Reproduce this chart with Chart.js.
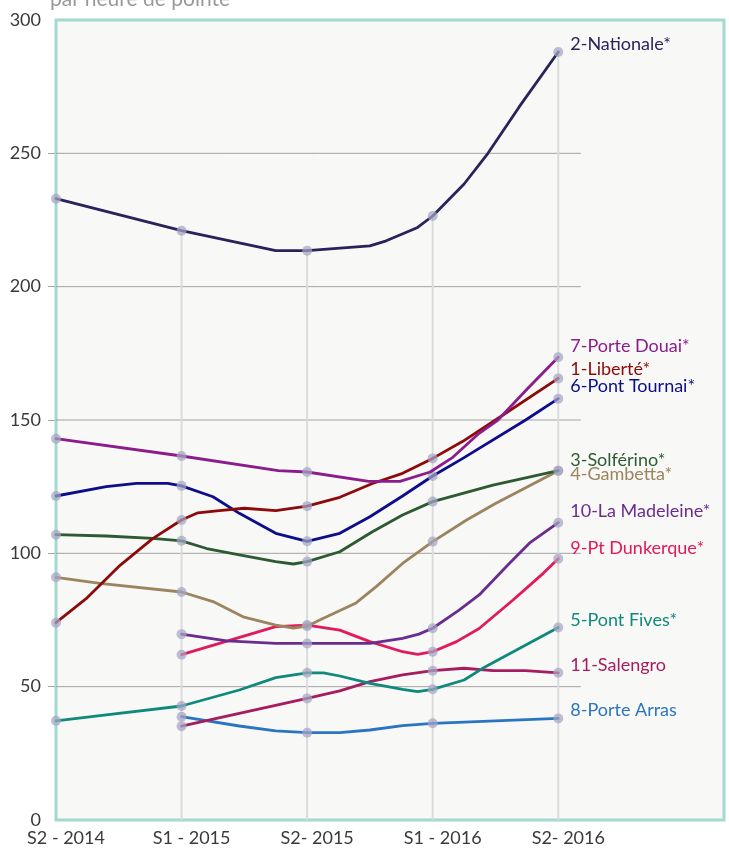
<!DOCTYPE html>
<html><head><meta charset="utf-8">
<script src="https://cdn.jsdelivr.net/npm/chart.js@4.4.1/dist/chart.umd.min.js"></script>
<style>
html,body{margin:0;padding:0;background:#fff;}
#wrap{position:relative;width:729px;height:849px;overflow:hidden;}
#title{position:absolute;left:50px;top:-13px;font-family:Lato,sans-serif;font-size:21px;line-height:21px;color:#9a9a9a;white-space:nowrap;z-index:2;}
#c{position:absolute;left:0;top:0;}
</style></head><body>
<div id="wrap"><div id="title">par heure de pointe</div><canvas id="c" width="729" height="849"></canvas></div>
<script>
// ---- data ----
const categories = ["S2 - 2014", "S1 - 2015", "S2- 2015", "S1 - 2016", "S2- 2016"];
const yTickValues = [0, 50, 100, 150, 200, 250, 300];
const seriesNames = ["2-Nationale*", "7-Porte Douai*", "1-Liberté*", "6-Pont Tournai*", "3-Solférino*", "4-Gambetta*", "10-La Madeleine*", "9-Pt Dunkerque*", "5-Pont Fives*", "11-Salengro", "8-Porte Arras"];
const nationale   = [[0,233],[1,221],[1.75,213.5],[2,213.5],[2.5,215.3],[2.63,217.2],[2.88,222.2],[3,226.5],[3.25,238.5],[3.44,250],[3.69,267.5],[4,288]];
const porteDouai  = [[0,143],[1,136.5],[1.77,131],[2,130.5],[2.49,127],[2.74,127],[2.98,130.5],[3.16,136],[3.37,145],[3.52,150],[3.76,162],[4,173.5]];
const liberte     = [[0,74],[0.24,83],[0.51,95.5],[0.77,105.5],[1,112.5],[1.13,115.2],[1.3,116],[1.5,116.9],[1.75,116],[2,117.7],[2.26,121],[2.52,126.2],[2.76,130],[3,135.6],[3.24,142],[3.5,150],[4,165.6]];
const pontTournai = [[0,121.5],[0.4,125],[0.64,126.2],[0.89,126.2],[1,125.3],[1.25,121.2],[1.46,115],[1.75,107.5],[2,104.5],[2.26,107.5],[2.5,113.7],[2.76,121.5],[3,129],[3.24,135.6],[3.74,150],[4,158]];
const solferino   = [[0,107],[0.4,106.5],[0.77,105.6],[1,104.7],[1.2,101.8],[1.46,99.4],[1.75,96.9],[1.89,96],[2,96.9],[2.26,100.6],[2.52,108.1],[2.76,114.4],[3,119.4],[3.24,122.5],[3.48,125.6],[4,131]];
const gambetta    = [[0,91],[0.35,88.7],[1,85.5],[1.25,81.9],[1.49,76.2],[1.75,73.1],[1.89,72],[2,72.7],[2.1,75],[2.39,81.4],[2.55,87.5],[2.76,96.2],[3,104.4],[3.27,112.5],[3.5,118.7],[4,131]];
const madeleine   = [[1,69.7],[1.36,67.2],[1.75,66.2],[2,66.2],[2.5,66.2],[2.76,68.1],[2.89,69.7],[3,71.9],[3.21,78.7],[3.37,84.4],[3.61,96.2],[3.77,103.8],[4,111.5]];
const dunkerque   = [[1,62],[1.75,72.5],[2,73.1],[2.26,71.2],[2.5,66.9],[2.76,63.1],[2.88,62.1],[3,63.1],[3.19,66.9],[3.37,71.8],[3.64,82.5],[3.88,92.5],[4,98]];
const pontFives   = [[0,37.2],[0.4,39.4],[1,42.75],[1.46,48.75],[1.75,53.4],[2,55.2],[2.13,55.2],[2.26,54],[2.5,51.25],[2.76,49],[2.88,48.1],[3,49],[3.25,52.5],[3.42,57.5],[4,72.2]];
const salengro    = [[1,35.2],[1.46,40],[2,45.6],[2.26,48.4],[2.5,51.9],[2.76,54.4],[3,56],[3.25,56.9],[3.48,56],[3.74,56],[4,55.2]];
const porteArras  = [[1,38.75],[1.46,35.25],[1.75,33.4],[2,32.75],[2.26,32.75],[2.5,33.75],[2.76,35.4],[3,36.25],[4,38.1]];

// ---- styles ----
const allSeries = [nationale, porteDouai, liberte, pontTournai, solferino, gambetta, madeleine, dunkerque, pontFives, salengro, porteArras];
const seriesColors = ["#29235c", "#8c1c8c", "#8c0a0a", "#0d0d8c", "#2d5a32", "#9b845f", "#6a2c8f", "#e2195c", "#10897d", "#a51d5f", "#2a75c2"];
const labelDy = [-8, -11, -9, -12, -10, 4, -11, -10, -7, -8, -8];
const FONT = "Lato, 'Open Sans', sans-serif";
const GRID_RIGHT = 4.18;
const X_MAX = 5.32;

const toPts = arr => arr.map(p => ({x: p[0], y: p[1]}));
const isCat = ctx => Number.isInteger(ctx.raw && ctx.raw.x);

const seriesDatasets = allSeries.map((s, i) => ({
  type: 'line',
  label: seriesNames[i],
  data: toPts(s),
  borderColor: seriesColors[i],
  borderWidth: 2.8,
  borderJoinStyle: 'round',
  borderCapStyle: 'round',
  tension: 0,
  clip: false,
  pointRadius: ctx => isCat(ctx) ? 5 : 0,
  pointHoverRadius: ctx => isCat(ctx) ? 5 : 0,
  pointBackgroundColor: 'rgba(165,165,195,0.72)',
  pointBorderWidth: 0
}));

const dropDatasets = [1, 2, 3, 4].map(c => {
  const top = Math.max(...allSeries.flatMap(s => s.filter(p => p[0] === c).map(p => p[1])));
  return {type: 'line', data: [{x: c, y: 0}, {x: c, y: top}], borderColor: '#dcdcdc', borderWidth: 2, pointRadius: 0, pointHoverRadius: 0};
});

const gridDatasets = yTickValues.filter(v => v > 0 && v < 300).map(v => ({
  type: 'line', data: [{x: 0, y: v}, {x: GRID_RIGHT, y: v}], borderColor: '#a3a3a3', borderWidth: 1, pointRadius: 0, pointHoverRadius: 0
}));

const framePlugin = {
  id: 'frame',
  beforeDraw(chart) {
    const {ctx, chartArea: a} = chart;
    ctx.save();
    ctx.fillStyle = '#f8f8f6';
    ctx.fillRect(a.left, a.top, a.right - a.left, a.bottom - a.top);
    ctx.restore();
  },
  beforeDatasetsDraw(chart) {
    const {ctx, chartArea: a} = chart;
    ctx.save();
    ctx.strokeStyle = '#a3d9cf';
    ctx.lineWidth = 3;
    ctx.strokeRect(a.left, a.top, a.right - a.left, a.bottom - a.top);
    ctx.restore();
  },
  afterDatasetsDraw(chart) {
    const ctx = chart.ctx;
    ctx.save();
    ctx.font = "18px " + FONT;
    ctx.textBaseline = 'middle';
    ctx.textAlign = 'left';
    allSeries.forEach((s, i) => {
      const meta = chart.getDatasetMeta(i);
      const pt = meta.data[meta.data.length - 1];
      ctx.fillStyle = seriesColors[i];
      ctx.fillText(seriesNames[i], pt.x + 12, pt.y + labelDy[i]);
    });
    ctx.restore();
  }
};

new Chart(document.getElementById('c'), {
  type: 'line',
  data: {datasets: [...seriesDatasets, ...dropDatasets, ...gridDatasets]},
  plugins: [framePlugin],
  options: {
    responsive: false,
    animation: false,
    events: [],
    layout: {padding: {top: 20, right: 5, bottom: 0, left: 0}},
    plugins: {legend: {display: false}, tooltip: {enabled: false}, title: {display: false}},
    scales: {
      x: {
        type: 'linear', min: 0, max: X_MAX,
        afterBuildTicks: axis => { axis.ticks = categories.map((_, i) => ({value: i})); },
        afterFit: scale => { scale.height = 29; },
        ticks: {callback: v => categories[v] ?? '', font: {family: FONT, size: 18}, color: '#3a3a3a', padding: 7, labelOffset: 10, maxRotation: 0, autoSkip: false},
        grid: {display: false, drawTicks: false},
        border: {display: false}
      },
      y: {
        min: 0, max: 300,
        afterBuildTicks: axis => { axis.ticks = yTickValues.map(v => ({value: v})); },
        afterFit: scale => { scale.width = 56; },
        ticks: {font: {family: FONT, size: 18}, color: '#3a3a3a', padding: 7},
        grid: {drawOnChartArea: false, tickLength: 8, color: ctx => (ctx.tick && ctx.tick.value > 0 && ctx.tick.value < 300) ? '#a3a3a3' : 'rgba(0,0,0,0)'},
        border: {display: false}
      }
    }
  }
});
</script>
</body></html>
